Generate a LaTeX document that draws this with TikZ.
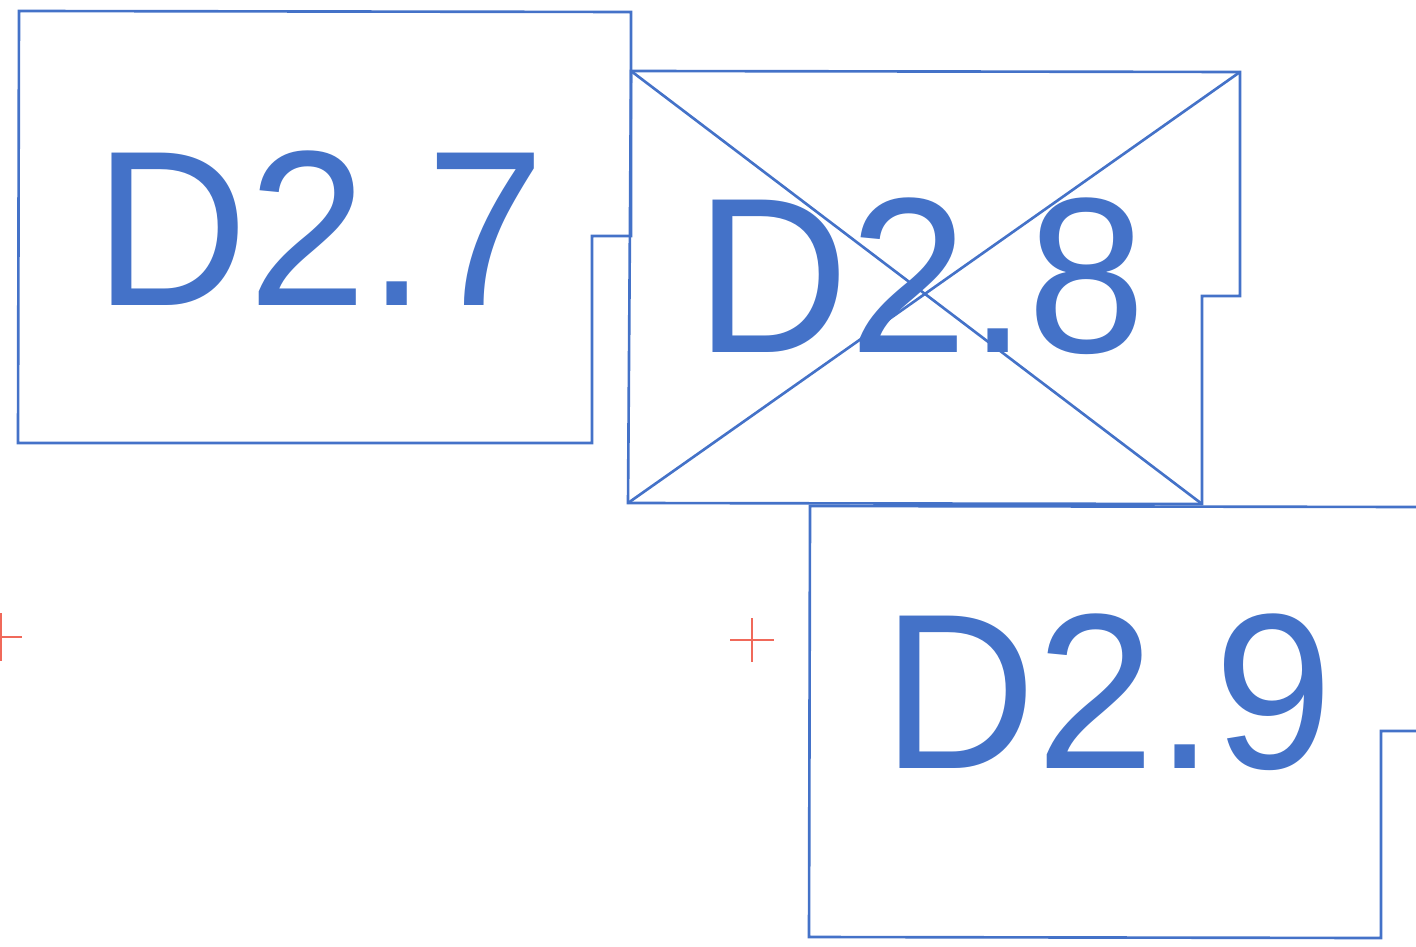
\documentclass[tikz,border=0pt]{standalone}
\usepackage{fontspec}
\setmainfont{Liberation Sans}
\definecolor{roomblue}{RGB}{68,114,200}
\definecolor{markred}{RGB}{240,105,90}
\newcommand\roomtext[1]{\scalebox{1.01}[1.05]{#1}}
\tikzset{
  room/.style={draw=roomblue,line width=0.75pt,line join=miter},
  roomlabel/.style={text=roomblue,anchor=base,inner sep=0pt,font=\fontsize{60}{62}\selectfont},
  crossmark/.style={draw=markred,line width=0.7pt}
}
\begin{document}
\begin{tikzpicture}[x=0.01cm,y=-0.01cm]
\useasboundingbox (0,0) rectangle (1416,946);
\clip (0,0) rectangle (1416,946);

% D2.7
\draw[room] (19,11) -- (631,12) -- (631,236) -- (592,236) -- (592,443) -- (18,443) -- cycle;
\node[roomlabel] (d27) at (320,305) {\roomtext{D2.7}};

% D2.8
\draw[room] (631,71) -- (1240,72) -- (1240,296) -- (1202,296) -- (1202,504) -- (628,503) -- cycle;
\draw[room] (631,71) -- (1202,504);
\draw[room] (1240,72) -- (628,503);
\node[roomlabel] (d28) at (921,352) {\roomtext{D2.8}};

% D2.9
\draw[room] (810,506) -- (1420,507) -- (1420,731) -- (1381,731) -- (1381,938) -- (809,937) -- cycle;
\node[roomlabel] (d29) at (1108,768) {\roomtext{D2.9}};

% markers
\draw[crossmark] (730,640) -- (774,640) (752,618) -- (752,662);
\draw[crossmark] (0,637) -- (22,637) (1,613) -- (1,661);
\end{tikzpicture}
\end{document}
